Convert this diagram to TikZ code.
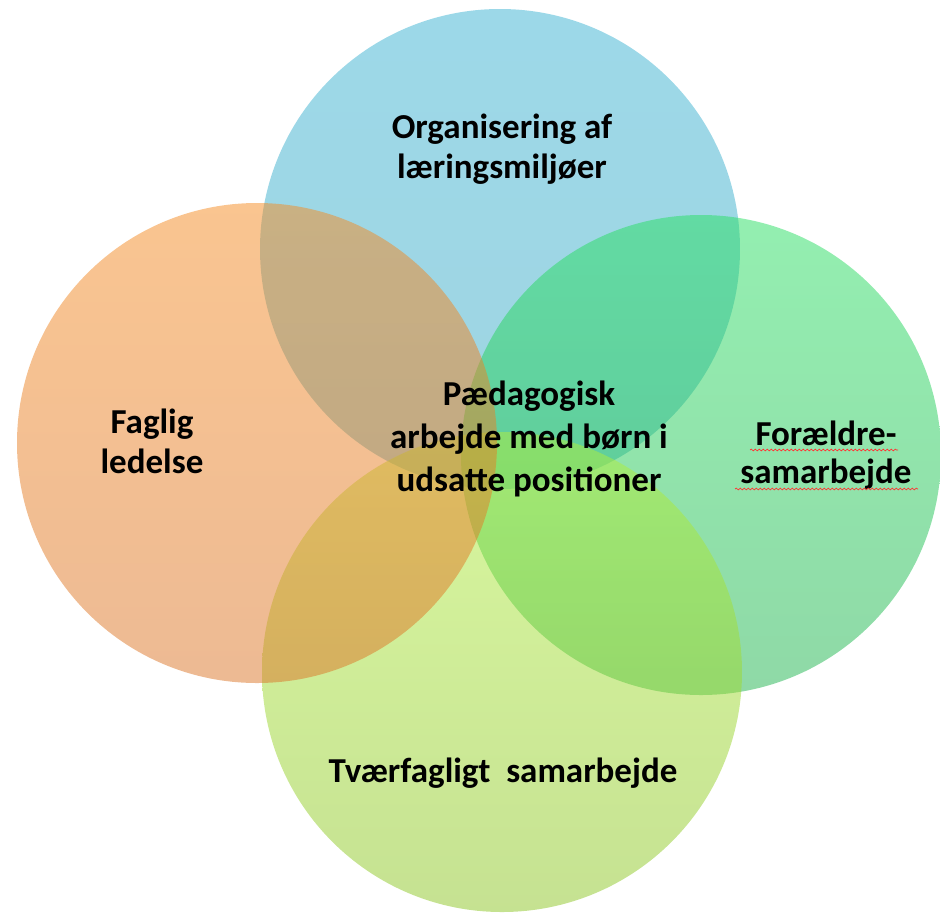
\documentclass[tikz,border=0pt]{standalone}
\usepackage{fontspec}
\setmainfont{Carlito}
\usetikzlibrary{decorations.pathmorphing}
\definecolor{cBlueT}{HTML}{3AB2D2}
\definecolor{cBlueB}{HTML}{40ABC4}
\definecolor{cOrT}{HTML}{F58B22}
\definecolor{cOrB}{HTML}{DB7528}
\definecolor{cGrT}{HTML}{28DF62}
\definecolor{cGrB}{HTML}{1FB34E}
\definecolor{cLgT}{HTML}{B2EF3E}
\definecolor{cLgB}{HTML}{8CC524}
\tikzset{
  venn/.style={fill opacity=0.5, draw=none},
  lbl/.style={font=\fontsize{35}{40}\selectfont\bfseries, align=center, text=black, inner sep=0pt},
  squig/.style={draw=red!80, line width=0.7pt, decorate, decoration={snake, amplitude=0.9pt, segment length=4pt}}
}
\begin{document}
\begin{tikzpicture}[x=1pt,y=-1pt]
\useasboundingbox (0,0) rectangle (940,914);
\shade[venn, top color=cBlueT, bottom color=cBlueB] (500,249) circle (240);
\shade[venn, top color=cGrT, bottom color=cGrB] (701,455) circle (240);
\shade[venn, top color=cLgT, bottom color=cLgB] (502,672) circle (240);
\shade[venn, top color=cOrT, bottom color=cOrB] (257,443) circle (240);
\node[lbl] (org) at (502,149) {Organisering af\\læringsmiljøer};
\node[lbl] (fag) at (152,441) {Faglig\\ledelse};
\node[lbl, font=\fontsize{35}{43}\selectfont\bfseries] (ped) at (529,439) {Pædagogisk\\arbejde med børn i\\udsatte positioner};
\node[lbl, font=\fontsize{35}{38}\selectfont\bfseries] (for) at (826,455) {Forældre-\\samarbejde};
\node[lbl] (tvf) at (503,773) {Tværfagligt\ \ samarbejde};
\coordinate (s1a) at (750,450);
\coordinate (s1b) at (898,450);
\coordinate (s2a) at (735,489);
\coordinate (s2b) at (918,489);
\draw[squig] (s1a) -- (s1b);
\draw[squig] (s2a) -- (s2b);
\end{tikzpicture}
\end{document}
